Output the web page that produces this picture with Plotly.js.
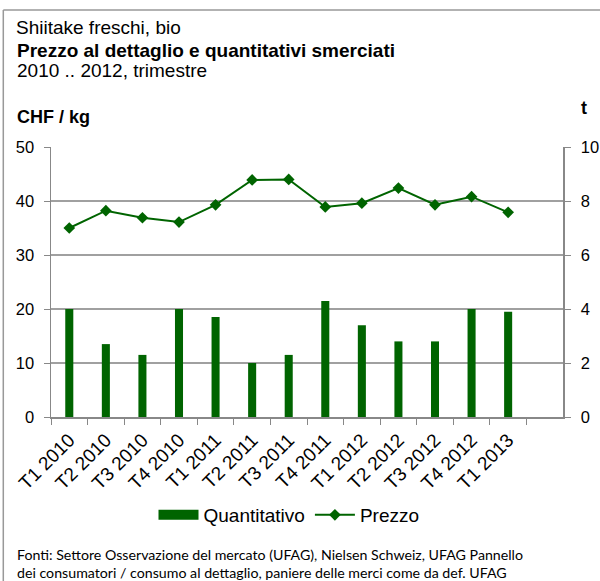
<!DOCTYPE html>
<html>
<head>
<meta charset="utf-8">
<script src="https://cdn.plot.ly/plotly-3.0.1.min.js"></script>
<style>html,body{margin:0;padding:0;background:#fff;}#chart{width:600px;height:581px;}</style>
</head>
<body>
<div id="chart"></div>
<script>
const categories = ["T1 2010","T2 2010","T3 2010","T4 2010","T1 2011","T2 2011","T3 2011","T4 2011","T1 2012","T2 2012","T3 2012","T4 2012","T1 2013"];
const quantitativo = [4.0, 2.7, 2.3, 4.0, 3.7, 2.0, 2.3, 4.3, 3.4, 2.8, 2.8, 4.0, 3.9];
const prezzo = [35.0, 38.2, 36.9, 36.1, 39.3, 43.9, 44.0, 38.9, 39.6, 42.4, 39.3, 40.8, 37.9];
const leftTicks = [0, 10, 20, 30, 40, 50];
const rightTicks = [0, 2, 4, 6, 8, 10];

const green = "#006400";
const W = 600, H = 581, L = 51, R = 37, T = 147, B = 164;
const pw = W - L - R, ph = H - T - B;
const px = x => (x - L) / pw;
const py = y => (H - B - y) / ph;

const traces = [
  {
    type: "bar", name: "Quantitativo", x: categories, y: quantitativo, yaxis: "y2",
    marker: {color: green}, width: 0.22, showlegend: false, legendgroup: "q"
  },
  {
    // legend entry for the bars, drawn as a wide block like the original
    type: "scatter", mode: "lines", name: "Quantitativo", x: [null], y: [null], yaxis: "y2",
    line: {color: green, width: 11}, legendgroup: "q", hoverinfo: "skip"
  },
  {
    type: "scatter", mode: "lines+markers", name: "Prezzo", x: categories, y: prezzo,
    line: {color: green, width: 2}, marker: {symbol: "diamond", size: 9, color: green}
  }
];

const fam = "Liberation Sans, Arial, sans-serif";
const font = {family: fam, size: 16, color: "#000"};

const layout = {
  width: W, height: H,
  margin: {l: L, r: R, t: T, b: B},
  paper_bgcolor: "#fff", plot_bgcolor: "#fff",
  font: font,
  showlegend: true,
  title: {
    text: "Shiitake freschi, bio",
    x: 16 / W, xanchor: "left", xref: "container",
    y: 1 - 27 / H, yanchor: "middle", yref: "container",
    font: {family: fam, size: 19, color: "#000"}
  },
  xaxis: {
    type: "category",
    categoryorder: "array", categoryarray: categories,
    range: [-0.5, 13.5],
    tickson: "boundaries",
    ticks: "outside", ticklen: 6, tickcolor: "#888",
    showline: true, linecolor: "#888", linewidth: 1.5,
    showgrid: false, tickangle: -45, ticklabelstandoff: 3,
    tickfont: {family: fam, size: 19, color: "#000"},
    fixedrange: true
  },
  yaxis: {
    range: [0, 50], tickvals: leftTicks,
    ticks: "outside", ticklen: 6, tickcolor: "#888",
    showline: true, linecolor: "#888", linewidth: 1.5,
    showgrid: true, gridcolor: "#a0a0a0", gridwidth: 1.2,
    zeroline: false, ticklabelstandoff: 6,
    tickfont: {family: fam, size: 16.5, color: "#000"}
  },
  yaxis2: {
    overlaying: "y", side: "right",
    range: [0, 10], tickvals: rightTicks,
    ticks: "outside", ticklen: 6, tickcolor: "#888",
    showline: true, linecolor: "#888", linewidth: 1.5,
    showgrid: false, zeroline: false, ticklabelstandoff: 7,
    tickfont: {family: fam, size: 16.5, color: "#000"}
  },
  legend: {
    orientation: "h", x: px(289), xanchor: "center", y: py(515), yanchor: "middle",
    font: {family: fam, size: 19, color: "#000"},
    itemwidth: 40, bgcolor: "rgba(0,0,0,0)", traceorder: "normal"
  },
  annotations: [
    {text: "<b>Prezzo al dettaglio e quantitativi smerciati</b>", xref: "paper", yref: "paper", x: px(15), y: py(50.5), xanchor: "left", yanchor: "middle", showarrow: false, font: {family: fam, size: 19, color: "#000"}},
    {text: "2010 .. 2012, trimestre", xref: "paper", yref: "paper", x: px(15), y: py(70), xanchor: "left", yanchor: "middle", showarrow: false, font: {family: fam, size: 19, color: "#000"}},
    {text: "<b>CHF / kg</b>", xref: "paper", yref: "paper", x: px(15), y: py(117), xanchor: "left", yanchor: "middle", showarrow: false, font: {family: fam, size: 18, color: "#000"}},
    {text: "<b>t</b>", xref: "paper", yref: "paper", x: px(579), y: py(108), xanchor: "left", yanchor: "middle", showarrow: false, font: {family: fam, size: 18, color: "#000"}},
    {text: "Fonti: Settore Osservazione del mercato (UFAG), Nielsen Schweiz, UFAG Pannello<br>dei consumatori / consumo al dettaglio, paniere delle merci come da def. UFAG",
     xref: "paper", yref: "paper", x: px(15), y: py(563), xanchor: "left", yanchor: "middle", align: "left", showarrow: false,
     font: {family: "Lato, Open Sans, sans-serif", size: 14.2, color: "#000"}}
  ],
  shapes: [
    {type: "line", xref: "paper", yref: "paper", x0: px(3.3), x1: px(600), y0: py(10), y1: py(10), line: {color: "#999", width: 1.5}},
    {type: "line", xref: "paper", yref: "paper", x0: px(3.3), x1: px(3.3), y0: py(10), y1: py(581), line: {color: "#999", width: 1.5}}
  ]
};

Plotly.newPlot("chart", traces, layout, {displayModeBar: false, staticPlot: true});
</script>
</body>
</html>
